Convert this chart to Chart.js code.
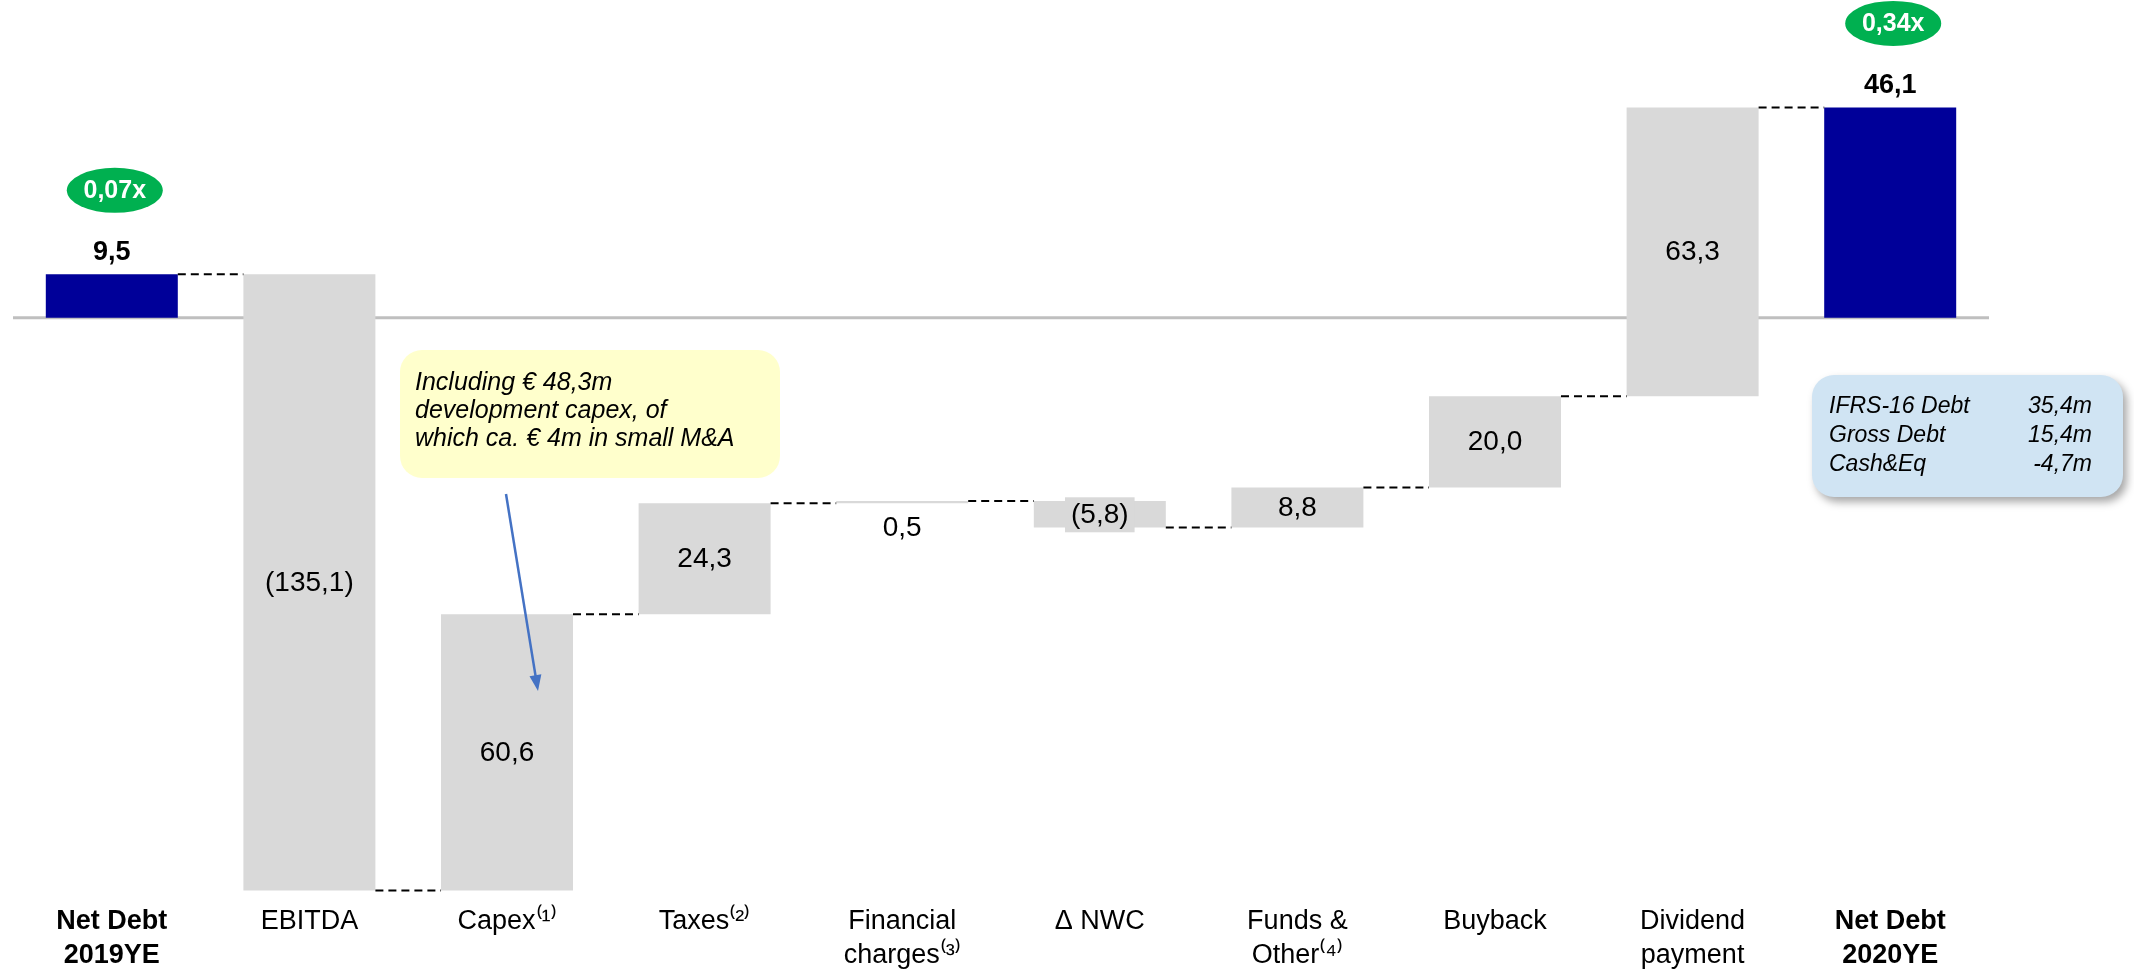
<!DOCTYPE html>
<html>
<head>
<meta charset="utf-8">
<title>Net debt bridge 2019YE - 2020YE</title>
<script src="https://cdn.jsdelivr.net/npm/chart.js@4.4.1/dist/chart.umd.min.js"></script>
<style>
  html, body { margin: 0; padding: 0; background: #ffffff; }
  canvas { display: block; }
</style>
</head>
<body>
<canvas id="bridgeChart" width="2134" height="972"></canvas>
<script>
// --- chart data -----------------------------------------------------------
const categories = [
    ['Net Debt', '2019YE'], 'EBITDA', 'Capex⁽¹⁾', 'Taxes⁽²⁾', ['Financial', 'charges⁽³⁾'],
    'Δ NWC', ['Funds &', 'Other⁽⁴⁾'], 'Buyback', ['Dividend', 'payment'], ['Net Debt', '2020YE']
];
const movements = [9.5, -135.1, 60.6, 24.3, 0.5, -5.8, 8.8, 20.0, 63.3, 46.1];
const isTotal = [true, false, false, false, false, false, false, false, false, true];
const leverage = ['0,07x', null, null, null, null, null, null, null, null, '0,34x'];

const capexNote = ['Including € 48,3m', 'development capex, of', 'which ca. € 4m in small M&A'];
const debtItems = ['IFRS-16 Debt', 'Gross Debt', 'Cash&Eq'];
const debtAmounts = ['35,4m', '15,4m', '-4,7m'];

const FONT = "'Liberation Sans', Arial, sans-serif";
const BLUE = '#000099';
const GREY = '#D9D9D9';

// Running total -> floating [start, end] pairs
let running = 0;
const floating = movements.map((v, i) => {
    if (isTotal[i]) {
        running = v;
        return [0, v];
    }
    const start = running;
    running = Math.round((running + v) * 10) / 10;
    return [start, running];
});

function fmt(v) {
    const s = Math.abs(v).toFixed(1).replace('.', ',');
    return v < 0 ? '(' + s + ')' : s;
}

function roundRect(ctx, x, y, w, h, r) {
    ctx.beginPath();
    ctx.moveTo(x + r, y);
    ctx.arcTo(x + w, y, x + w, y + h, r);
    ctx.arcTo(x + w, y + h, x, y + h, r);
    ctx.arcTo(x, y + h, x, y, r);
    ctx.arcTo(x, y, x + w, y, r);
    ctx.closePath();
}

// zero line behind the bars
const zeroLine = {
    id: 'zeroLine',
    beforeDatasetsDraw(chart) {
        const { ctx, chartArea, scales } = chart;
        const y0 = scales.y.getPixelForValue(0);
        ctx.save();
        ctx.strokeStyle = '#BFBFBF';
        ctx.lineWidth = 3;
        ctx.beginPath();
        ctx.moveTo(chartArea.left, y0);
        ctx.lineTo(chartArea.right, y0);
        ctx.stroke();
        ctx.restore();
    }
};

// connectors, value labels, leverage bubbles
const bridgeDecor = {
    id: 'bridgeDecor',
    afterDatasetsDraw(chart) {
        const { ctx, scales } = chart;
        const bars = chart.getDatasetMeta(0).data;
        ctx.save();

        // dashed connectors
        ctx.strokeStyle = '#000';
        ctx.lineWidth = 2;
        ctx.setLineDash([8, 5]);
        for (let i = 0; i < bars.length - 1; i++) {
            const y = scales.y.getPixelForValue(floating[i][1]);
            ctx.beginPath();
            ctx.moveTo(bars[i].x + bars[i].width / 2, y);
            ctx.lineTo(bars[i + 1].x - bars[i + 1].width / 2, y);
            ctx.stroke();
        }
        ctx.setLineDash([]);

        ctx.textAlign = 'center';
        ctx.textBaseline = 'middle';
        bars.forEach((bar, i) => {
            const top = Math.min(bar.y, bar.base);
            const bottom = Math.max(bar.y, bar.base);
            if (isTotal[i]) {
                ctx.fillStyle = '#000';
                ctx.font = 'bold 27px ' + FONT;
                ctx.fillText(fmt(movements[i]), bar.x, top - 22);
                if (leverage[i]) {
                    ctx.fillStyle = '#00B050';
                    ctx.beginPath();
                    ctx.ellipse(bar.x + 3, top - 84, 48, 22.5, 0, 0, Math.PI * 2);
                    ctx.fill();
                    ctx.fillStyle = '#fff';
                    ctx.font = 'bold 25px ' + FONT;
                    ctx.fillText(leverage[i], bar.x + 3, top - 83);
                }
                return;
            }
            const h = bottom - top;
            const text = fmt(movements[i]);
            ctx.font = '28px ' + FONT;
            if (h < 6) {
                ctx.fillStyle = '#000';
                ctx.fillText(text, bar.x, bottom + 25);
            } else {
                const cy = (top + bottom) / 2;
                if (h < 32) {
                    const tw = ctx.measureText(text).width;
                    ctx.fillStyle = GREY;
                    ctx.fillRect(bar.x - tw / 2 - 6, cy - 17, tw + 12, 35);
                }
                ctx.fillStyle = '#000';
                ctx.fillText(text, bar.x, cy + 1);
            }
        });
        ctx.restore();
    },
    afterDraw(chart) {
        const { ctx } = chart;
        ctx.save();

        // yellow call-out on capex
        ctx.fillStyle = '#FFFFCC';
        roundRect(ctx, 400, 350, 380, 128, 22);
        ctx.fill();
        ctx.fillStyle = '#000';
        ctx.font = 'italic 25px ' + FONT;
        ctx.textAlign = 'left';
        ctx.textBaseline = 'middle';
        capexNote.forEach((line, k) => ctx.fillText(line, 415, 383 + k * 28));

        // arrow into capex bar
        const x1 = 506, y1 = 494, x2 = 538, y2 = 691;
        const ang = Math.atan2(y2 - y1, x2 - x1);
        ctx.strokeStyle = '#4472C4';
        ctx.fillStyle = '#4472C4';
        ctx.lineWidth = 2.5;
        ctx.beginPath();
        ctx.moveTo(x1, y1);
        ctx.lineTo(x2 - 12 * Math.cos(ang), y2 - 12 * Math.sin(ang));
        ctx.stroke();
        ctx.beginPath();
        ctx.moveTo(x2, y2);
        ctx.lineTo(x2 - 16 * Math.cos(ang) + 6 * Math.sin(ang), y2 - 16 * Math.sin(ang) - 6 * Math.cos(ang));
        ctx.lineTo(x2 - 16 * Math.cos(ang) - 6 * Math.sin(ang), y2 - 16 * Math.sin(ang) + 6 * Math.cos(ang));
        ctx.closePath();
        ctx.fill();

        // debt breakdown box
        ctx.save();
        ctx.shadowColor = 'rgba(0,0,0,0.35)';
        ctx.shadowBlur = 8;
        ctx.shadowOffsetX = 4;
        ctx.shadowOffsetY = 5;
        ctx.fillStyle = '#D0E4F3';
        roundRect(ctx, 1812, 375, 311, 122, 22);
        ctx.fill();
        ctx.restore();
        ctx.fillStyle = '#000';
        ctx.font = 'italic 23px ' + FONT;
        ctx.textBaseline = 'middle';
        debtItems.forEach((t, k) => {
            ctx.textAlign = 'left';
            ctx.fillText(t, 1829, 407 + k * 29);
            ctx.textAlign = 'right';
            ctx.fillText(debtAmounts[k], 2092, 407 + k * 29);
        });
        ctx.restore();
    }
};

new Chart(document.getElementById('bridgeChart'), {
    type: 'bar',
    data: {
        labels: categories,
        datasets: [{
            data: floating,
            backgroundColor: isTotal.map(t => t ? BLUE : GREY),
            borderWidth: 0,
            borderSkipped: false,
            categoryPercentage: 1.0,
            barPercentage: 0.668
        }]
    },
    options: {
        responsive: false,
        animation: false,
        devicePixelRatio: 1,
        layout: { padding: { top: 44, left: 13, right: 145, bottom: 0 } },
        plugins: {
            legend: { display: false },
            tooltip: { enabled: false }
        },
        scales: {
            x: {
                grid: { display: false },
                border: { display: false },
                afterFit: scale => { scale.height = 75; },
                ticks: {
                    autoSkip: false,
                    maxRotation: 0,
                    padding: 0,
                    color: '#000',
                    font: ctx => ({
                        family: FONT,
                        size: 27,
                        lineHeight: 1.25,
                        weight: (ctx.index === 0 || ctx.index === categories.length - 1) ? 'bold' : 'normal'
                    })
                }
            },
            y: {
                display: false,
                min: -127,
                max: 60
            }
        }
    },
    plugins: [zeroLine, bridgeDecor]
});
</script>
</body>
</html>
